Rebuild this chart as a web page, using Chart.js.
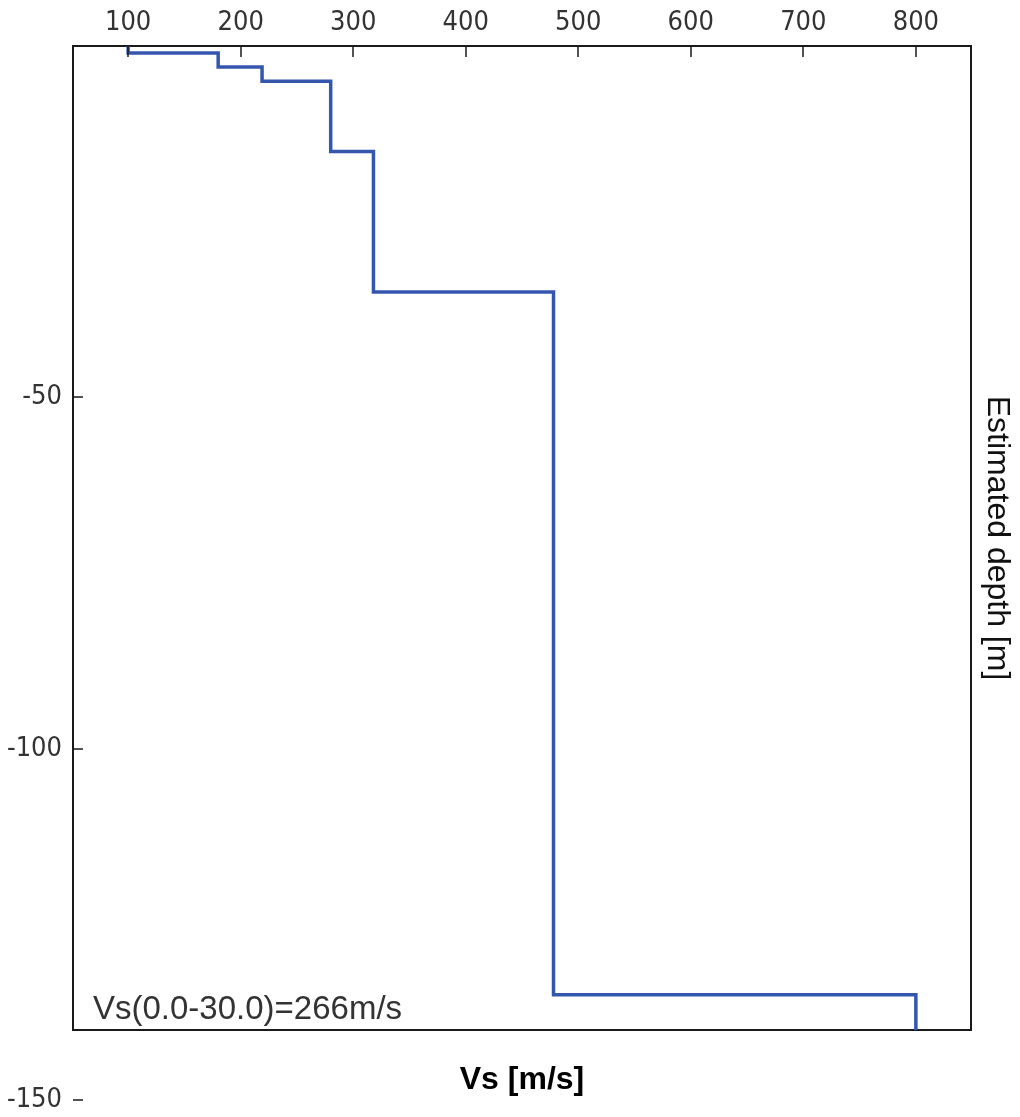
<!DOCTYPE html>
<html>
<head>
<meta charset="utf-8">
<title>Vs profile</title>
<script src="https://cdn.jsdelivr.net/npm/chart.js@4/dist/chart.umd.min.js"></script>
<style>
  body { margin: 0; background: #fff; }
  canvas { display: block; }
</style>
</head>
<body>
<canvas id="vsChart" width="1020" height="1117"></canvas>
<script>
// layer shear-wave velocities [m/s] and the depth of each layer base [m]
const layerVs = [100, 180, 219, 280, 318, 478, 800];
const layerBase = [1, 3, 5, 15, 35, 135, 140];

// axis ranges and tick values
const xMin = 51, xMax = 849;
const yMin = -140, yMax = 0;
const xTicks = [100, 200, 300, 400, 500, 600, 700, 800];
const yTicks = [-50, -100, -150];

// average velocity over the top 30 m
const vs30Range = [0.0, 30.0];
const vs30 = 266;

const tickFont = { family: "'Liberation Sans Narrow', 'DejaVu Sans Condensed', sans-serif", size: 27 };
const frameColor = '#1a1a1a';

document.addEventListener('DOMContentLoaded', () => {
    const ctx = document.getElementById('vsChart').getContext('2d');

    // build the stepped profile: each layer is a vertical run at its velocity
    const profile = [];
    let top = 0;
    layerVs.forEach((v, i) => {
        profile.push({ x: v, y: -top });
        profile.push({ x: v, y: -layerBase[i] });
        top = layerBase[i];
    });

    // tick marks point into the plot; ticks beyond the y range still get a label
    const insideTicks = {
        id: 'insideTicks',
        afterDraw(chart) {
            const { ctx, chartArea, scales: { x, y } } = chart;
            ctx.save();
            ctx.strokeStyle = frameColor;
            ctx.lineWidth = 1.5;
            xTicks.forEach(v => {
                const px = Math.round(x.getPixelForValue(v));
                ctx.beginPath();
                ctx.moveTo(px, chartArea.top);
                ctx.lineTo(px, chartArea.top + 11);
                ctx.stroke();
            });
            yTicks.forEach(v => {
                const py = Math.round(y.getPixelForValue(v));
                ctx.beginPath();
                ctx.moveTo(chartArea.left, py);
                ctx.lineTo(chartArea.left + 10, py);
                ctx.stroke();
            });

            ctx.fillStyle = '#333';
            ctx.font = `${tickFont.size}px ${tickFont.family}`;
            ctx.textAlign = 'right';
            ctx.textBaseline = 'middle';
            yTicks.filter(v => v < yMin).forEach(v => {
                ctx.fillText(String(v), chartArea.left - 11, y.getPixelForValue(v));
            });

            // Vs30 note in the lower left corner
            ctx.font = "33px 'Liberation Sans', Arial, sans-serif";
            ctx.textAlign = 'left';
            ctx.fillStyle = '#333';
            const note = `Vs(${vs30Range[0].toFixed(1)}-${vs30Range[1].toFixed(1)})=${vs30}m/s`;
            ctx.fillText(note, chartArea.left + 20, chartArea.bottom - 20);
            ctx.restore();
        }
    };

    const border = { display: true, color: frameColor, width: 2 };

    new Chart(ctx, {
        type: 'scatter',
        data: {
            datasets: [{
                label: 'Vs',
                data: profile,
                showLine: true,
                borderColor: '#3457ad',
                borderWidth: 3.5,
                borderJoinStyle: 'miter',
                pointRadius: 0,
                fill: false
            }]
        },
        options: {
            responsive: false,
            animation: false,
            layout: { padding: 0 },
            plugins: {
                legend: { display: false },
                tooltip: { enabled: false }
            },
            scales: {
                x: {
                    type: 'linear',
                    position: 'top',
                    min: xMin,
                    max: xMax,
                    border: border,
                    grid: { display: false, drawTicks: false },
                    ticks: { font: tickFont, color: '#333', padding: 7, maxRotation: 0 },
                    afterBuildTicks: s => { s.ticks = xTicks.map(v => ({ value: v })); },
                    afterFit: s => { s.height = 46; }
                },
                x2: {
                    type: 'linear',
                    position: 'bottom',
                    min: xMin,
                    max: xMax,
                    border: border,
                    grid: { display: false, drawTicks: false },
                    ticks: { display: false },
                    title: {
                        display: true,
                        text: 'Vs [m/s]',
                        color: '#000',
                        font: { family: "'Liberation Sans', Arial, sans-serif", size: 32, weight: 'bold' },
                        padding: { top: 0, bottom: 18 }
                    },
                    afterFit: s => { s.height = 87; }
                },
                y: {
                    type: 'linear',
                    position: 'left',
                    min: yMin,
                    max: yMax,
                    border: border,
                    grid: { display: false, drawTicks: false },
                    ticks: { font: tickFont, color: '#333', padding: 11 },
                    afterBuildTicks: s => {
                        s.ticks = yTicks.filter(v => v >= yMin && v <= yMax).map(v => ({ value: v }));
                    },
                    afterFit: s => { s.width = 73; }
                },
                y2: {
                    type: 'linear',
                    position: 'right',
                    min: yMin,
                    max: yMax,
                    border: border,
                    grid: { display: false, drawTicks: false },
                    ticks: { display: false },
                    title: {
                        display: true,
                        text: 'Estimated depth [m]',
                        color: '#111',
                        font: { family: "'Liberation Sans', Arial, sans-serif", size: 32 },
                        padding: { top: 4, bottom: 0 }
                    },
                    afterFit: s => { s.width = 49; }
                }
            }
        },
        plugins: [insideTicks]
    });
});
</script>
</body>
</html>
